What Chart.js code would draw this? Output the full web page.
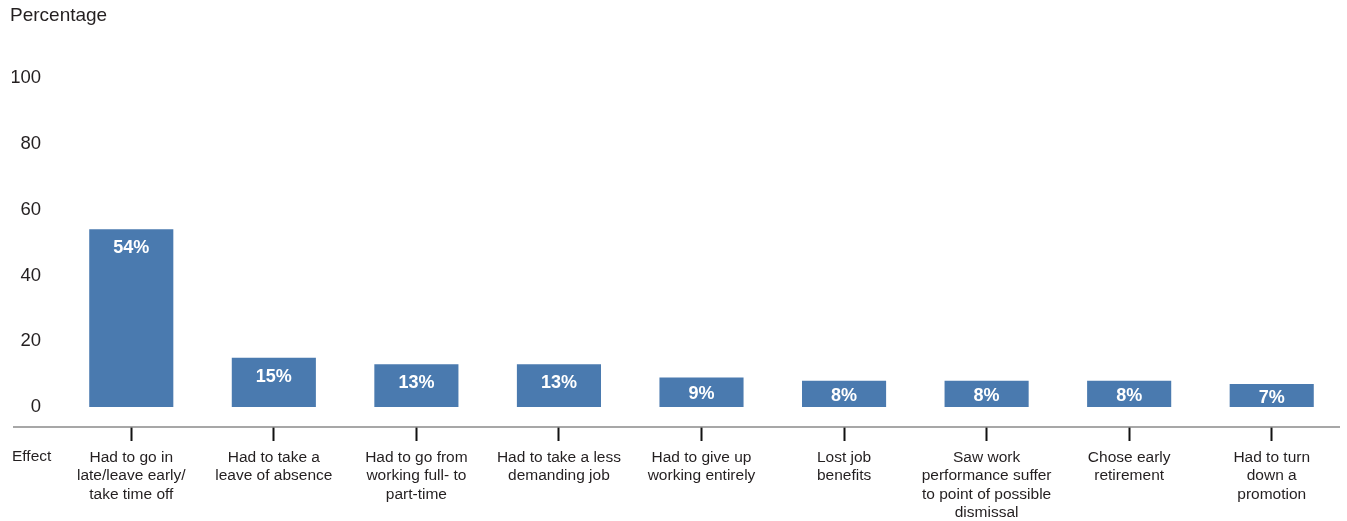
<!DOCTYPE html>
<html>
<head>
<meta charset="utf-8">
<script src="https://cdn.jsdelivr.net/npm/chart.js@4/dist/chart.umd.min.js"></script>
<style>
  html, body { margin: 0; padding: 0; background: #fff; }
  #wrap { width: 1347px; height: 521px; }
</style>
</head>
<body>
<div id="wrap"><canvas id="chart"></canvas></div>
<script>
const categories = [
  ['Had to go in', 'late/leave early/', 'take time off'],
  ['Had to take a', 'leave of absence'],
  ['Had to go from', 'working full- to', 'part-time'],
  ['Had to take a less', 'demanding job'],
  ['Had to give up', 'working entirely'],
  ['Lost job', 'benefits'],
  ['Saw work', 'performance suffer', 'to point of possible', 'dismissal'],
  ['Chose early', 'retirement'],
  ['Had to turn', 'down a', 'promotion']
];
const percentages = [54, 15, 13, 13, 9, 8, 8, 8, 7];
const yTicks = [0, 20, 40, 60, 80, 100];
const yTitle = 'Percentage';
const xTitle = 'Effect';

const textColor = '#231f20';
const barColor = '#4a7aaf';
const fontFamily = '"Liberation Sans", Arial, Helvetica, sans-serif';

// axis titles, the long baseline and the white value labels
const decorations = {
  id: 'decorations',
  afterDraw(chart) {
    const ctx = chart.ctx;
    const area = chart.chartArea;
    const y = chart.scales.y;
    ctx.save();

    // baseline runs under the y labels too
    ctx.strokeStyle = '#8a8a8a';
    ctx.lineWidth = 1.5;
    ctx.beginPath();
    ctx.moveTo(y.left + 1, area.bottom);
    ctx.lineTo(area.right - 3, area.bottom);
    ctx.stroke();

    ctx.fillStyle = textColor;
    ctx.textAlign = 'left';
    ctx.textBaseline = 'middle';
    ctx.font = '19px ' + fontFamily;
    ctx.fillText(yTitle, y.left - 2, 16);
    ctx.font = '15.5px ' + fontFamily;
    ctx.fillText(xTitle, y.left, 457);

    // value sits near the top of tall bars, centred in short ones
    const meta = chart.getDatasetMeta(0);
    ctx.fillStyle = '#ffffff';
    ctx.textAlign = 'center';
    ctx.font = 'bold 18px ' + fontFamily;
    meta.data.forEach((bar, i) => {
      const ty = Math.min(bar.y + 19, (bar.y + bar.base) / 2 + 2);
      ctx.fillText(percentages[i] + '%', bar.x, ty);
    });
    ctx.restore();
  }
};

new Chart(document.getElementById('chart'), {
  type: 'bar',
  data: {
    labels: categories,
    datasets: [{
      data: percentages,
      backgroundColor: barColor,
      borderWidth: 0,
      barPercentage: 0.59,
      categoryPercentage: 1
    }]
  },
  options: {
    responsive: true,
    maintainAspectRatio: false,
    animation: false,
    events: [],
    layout: { padding: { left: 12, right: 4, top: 78, bottom: 0 } },
    plugins: {
      legend: { display: false },
      tooltip: { enabled: false },
      title: { display: false }
    },
    scales: {
      x: {
        afterFit(scale) { scale.height = 94; },
        border: { display: false },
        grid: {
          display: true,
          drawOnChartArea: false,
          drawTicks: true,
          offset: false,
          tickLength: 14,
          tickWidth: 2,
          tickColor: '#111'
        },
        ticks: {
          color: textColor,
          padding: 7,
          maxRotation: 0,
          autoSkip: false,
          font: { family: fontFamily, size: 15.5, lineHeight: 1.2 }
        }
      },
      y: {
        min: -6.06,
        max: 100,
        afterFit(scale) { scale.width = 48; },
        afterBuildTicks(scale) {
          scale.ticks = yTicks.map(v => ({ value: v }));
        },
        border: { display: false },
        grid: { display: false, drawTicks: false },
        ticks: {
          color: textColor,
          padding: 19,
          font: { family: fontFamily, size: 18.5 },
          callback: v => v
        }
      }
    }
  },
  plugins: [decorations]
});
</script>
</body>
</html>
